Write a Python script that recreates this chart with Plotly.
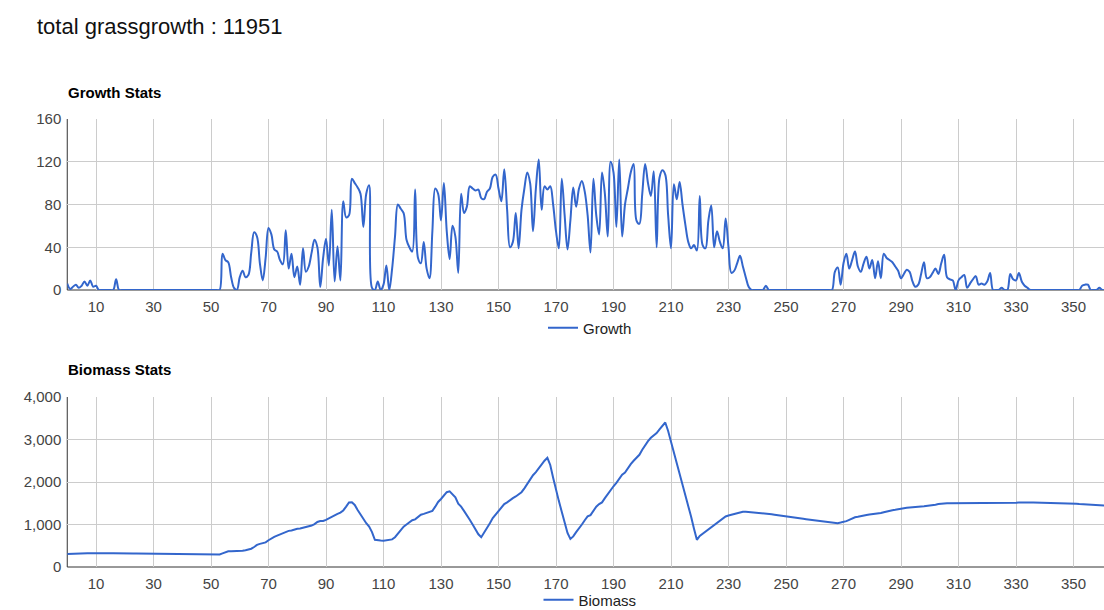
import plotly.graph_objects as go

# Day index of the season (0..361)
days = list(range(0, 362))

# Daily grass growth
growth = [
    6, 1, 3, 5, 2, 4, 8, 4, 9, 3,            # 0-9
    4, 0, 0, 0, 0, 0, 0, 10, 0, 0,           # 10-19
    0, 0, 0, 0, 0, 0, 0, 0, 0, 0,            # 20-29
    0, 0, 0, 0, 0, 0, 0, 0, 0, 0,            # 30-39
    0, 0, 0, 0, 0, 0, 0, 0, 0, 0,            # 40-49
    0, 0, 0, 0, 34, 28, 26, 12, 2, 0,        # 50-59
    12, 18, 12, 14, 35, 54, 50, 25, 9, 30,   # 60-69
    58, 52, 38, 36, 28, 24, 56, 20, 34, 12,  # 70-79
    22, 5, 39, 17, 22, 35, 47, 40, 3, 30,    # 80-89
    48, 23, 75, 8, 41, 9, 83, 68, 70, 104,   # 90-99
    100, 96, 90, 59, 90, 98, 2, 0, 8, 0,     # 100-109
    5, 23, 0, 20, 50, 80, 76, 72, 47, 40,    # 110-119
    36, 94, 30, 25, 45, 20, 11, 55, 95, 90,  # 120-129
    65, 100, 55, 29, 60, 50, 16, 90, 72, 78, # 130-139
    97, 95, 93, 94, 86, 85, 92, 95, 106, 108,    # 140-149
    95, 83, 113, 75, 40, 45, 72, 39, 75, 95,     # 150-159
    110, 100, 55, 95, 122, 75, 97, 94, 97, 80,   # 160-169
    55, 39, 104, 70, 38, 65, 96, 78, 95, 102,    # 170-179
    92, 70, 35, 104, 70, 52, 110, 90, 50, 120,   # 180-189
    110, 59, 122, 50, 80, 95, 110, 118, 65, 62,  # 190-199
    90, 118, 100, 88, 111, 40, 105, 112, 108, 70,    # 200-209
    39, 99, 85, 101, 80, 61, 45, 39, 42, 37,     # 210-219
    88, 42, 39, 65, 79, 40, 55, 45, 39, 67,      # 220-229
    40, 16, 18, 25, 32, 22, 12, 3, 0, 0,         # 230-239
    0, 0, 0, 4, 0, 0, 0, 0, 0, 0,                # 240-249
    0, 0, 0, 0, 0, 0, 0, 0, 0, 0,                # 250-259
    0, 0, 0, 0, 0, 0, 0, 17, 21, 5,              # 260-269
    25, 34, 20, 28, 36, 22, 17, 25, 31, 20,      # 270-279
    28, 11, 27, 11, 34, 30, 28, 26, 22, 18,      # 280-289
    11, 15, 19, 17, 8, 3, 5, 15, 26, 11,         # 290-299
    12, 16, 20, 15, 25, 33, 12, 10, 9, 0,        # 300-309
    9, 12, 14, 2, 6, 10, 13, 5, 6, 5,            # 310-319
    8, 16, 0, 0, 0, 2, 0, 0, 15, 10,             # 320-329
    9, 16, 8, 4, 2, 0, 0, 0, 0, 0,               # 330-339
    0, 0, 0, 0, 0, 0, 0, 0, 0, 0,                # 340-349
    0, 0, 0, 4, 5, 5, 0, 0, 0, 2,                # 350-359
    0, 0,                                        # 360-361
]

# Standing biomass per day
biomass = [
    305, 305, 310, 312, 315, 318, 320, 322, 325, 327,         # 0-9
    328, 328, 327, 326, 325, 324, 323, 325, 325, 324,         # 10-19
    323, 322, 321, 320, 319, 318, 318, 317, 317, 316,         # 20-29
    316, 316, 315, 315, 315, 315, 314, 314, 314, 314,         # 30-39
    313, 313, 313, 313, 312, 312, 312, 311, 311, 310,         # 40-49
    310, 305, 300, 295, 320, 350, 370, 372, 370, 368,         # 50-59
    370, 380, 395, 410, 430, 470, 520, 545, 560, 580,         # 60-69
    630, 680, 710, 740, 765, 790, 830, 850, 860, 885,         # 70-79
    900, 905, 920, 935, 955, 975, 1010, 1060, 1080, 1085,     # 80-89
    1110, 1150, 1170, 1230, 1250, 1280, 1330, 1420, 1520, 1525,   # 90-99
    1460, 1340, 1230, 1120, 1030, 950, 820, 640, 625, 625,        # 100-109
    620, 625, 640, 650, 700, 790, 880, 950, 1000, 1050,           # 110-119
    1100, 1120, 1170, 1230, 1250, 1270, 1300, 1320, 1420, 1530,   # 120-129
    1600, 1680, 1760, 1780, 1720, 1640, 1490, 1420, 1320, 1200,   # 130-139
    1110, 1000, 880, 770, 700, 800, 920, 1030, 1150, 1240,        # 140-149
    1320, 1400, 1480, 1520, 1580, 1620, 1660, 1700, 1760, 1850,   # 150-159
    1960, 2080, 2160, 2230, 2320, 2420, 2500, 2570, 2400, 2100,   # 160-169
    1800, 1550, 1300, 1050, 800, 660, 720, 820, 900, 1000,        # 170-179
    1100, 1190, 1220, 1320, 1420, 1480, 1520, 1620, 1720, 1820,   # 180-189
    1900, 1980, 2090, 2170, 2220, 2330, 2420, 2500, 2560, 2640,   # 190-199
    2760, 2870, 2960, 3040, 3090, 3150, 3240, 3330, 3400, 3200,   # 200-209
    2950, 2700, 2440, 2200, 1980, 1720, 1450, 1180, 900, 640,     # 210-219
    730, 780, 820, 890, 930, 990, 1040, 1090, 1130, 1190,         # 220-229
    1210, 1230, 1240, 1260, 1290, 1300, 1300, 1295, 1290, 1285,   # 230-239
    1280, 1272, 1265, 1258, 1250, 1240, 1230, 1222, 1215, 1205,   # 240-249
    1195, 1185, 1175, 1165, 1155, 1145, 1135, 1125, 1115, 1105,   # 250-259
    1095, 1085, 1075, 1065, 1055, 1045, 1035, 1025, 1030, 1045,   # 260-269
    1060, 1080, 1110, 1140, 1170, 1180, 1200, 1215, 1225, 1235,   # 270-279
    1240, 1250, 1255, 1270, 1290, 1310, 1325, 1335, 1345, 1360,   # 280-289
    1370, 1385, 1395, 1400, 1410, 1415, 1420, 1425, 1430, 1435,   # 290-299
    1440, 1450, 1465, 1480, 1490, 1495, 1498, 1500, 1500, 1500,   # 300-309
    1500, 1500, 1502, 1505, 1505, 1507, 1507, 1508, 1508, 1508,   # 310-319
    1510, 1510, 1508, 1506, 1505, 1502, 1500, 1498, 1495, 1500,   # 320-329
    1510, 1515, 1520, 1522, 1520, 1518, 1516, 1515, 1514, 1512,   # 330-339
    1510, 1510, 1508, 1507, 1506, 1505, 1505, 1504, 1503, 1500,   # 340-349
    1495, 1488, 1480, 1475, 1468, 1462, 1458, 1455, 1452, 1450,   # 350-359
    1448, 1446,                                                   # 360-361
]

total_growth = 11951
x_ticks = list(range(10, 360, 20))
growth_ticks = [0, 40, 80, 120, 160]
biomass_ticks = [0, 1000, 2000, 3000, 4000]
biomass_labels = ["0", "1,000", "2,000", "3,000", "4,000"]

W, H = 1104, 610
FONT = "Liberation Sans, Arial, sans-serif"
BLUE = "#3366CC"


def px_x(p):
    return p / W


def px_y(p):
    return 1 - p / H


fig = go.Figure()
fig.add_trace(go.Scatter(
    x=days, y=growth, name="Growth", mode="lines",
    line=dict(color=BLUE, width=2, shape="spline", smoothing=1.0),
    xaxis="x", yaxis="y", legend="legend", hoverinfo="x+y",
))
fig.add_trace(go.Scatter(
    x=days, y=biomass, name="Biomass", mode="lines",
    line=dict(color=BLUE, width=2),
    xaxis="x2", yaxis="y2", legend="legend2", hoverinfo="x+y",
))

x_range = [0, (W - 67.25) / 2.875]
common_x = dict(
    range=x_range, tickmode="array", tickvals=x_ticks,
    showgrid=True, gridcolor="#cccccc", gridwidth=1,
    zeroline=False, showline=False, automargin=False,
    ticks="outside", ticklen=3, tickcolor="rgba(0,0,0,0)",
    tickfont=dict(family=FONT, size=15, color="#444444"),
    layer="below traces", fixedrange=True,
)
common_y = dict(
    showgrid=True, gridcolor="#cccccc", gridwidth=1,
    zeroline=False, showline=False, automargin=False,
    ticks="outside", ticklen=2, tickcolor="rgba(0,0,0,0)",
    tickfont=dict(family=FONT, size=15, color="#444444"),
    layer="below traces", fixedrange=True,
)

legend_style = dict(
    orientation="h", xanchor="center", yanchor="middle",
    xref="container", yref="container", bgcolor="rgba(0,0,0,0)",
    font=dict(family=FONT, size=15, color="#222222"),
)

fig.update_layout(
    width=W, height=H,
    margin=dict(l=0, r=0, t=0, b=0, autoexpand=False),
    paper_bgcolor="white", plot_bgcolor="white",
    font=dict(family=FONT, color="#222222"),
    xaxis=dict(domain=[px_x(67.25), 1], anchor="y", **common_x),
    yaxis=dict(domain=[px_y(290), px_y(119)], anchor="x", range=[0, 160],
               tickmode="array", tickvals=growth_ticks, **common_y),
    xaxis2=dict(domain=[px_x(67.25), 1], anchor="y2", **common_x),
    yaxis2=dict(domain=[px_y(567), px_y(397)], anchor="x2", range=[0, 4000],
                tickmode="array", tickvals=biomass_ticks, ticktext=biomass_labels,
                **common_y),
    legend=dict(x=px_x(590), y=px_y(328), **legend_style),
    legend2=dict(x=px_x(590), y=px_y(600), **legend_style),
    showlegend=True,
)

# Baselines at day 0 and value 0 for both panels
for xa, ya in (("x", "y"), ("x2", "y2")):
    fig.add_shape(type="line", xref=f"{xa} domain", yref=f"{ya} domain",
                  x0=0, x1=0, y0=0, y1=1, line=dict(color="#333333", width=1),
                  layer="below")
    fig.add_shape(type="line", xref=f"{xa} domain", yref=f"{ya} domain",
                  x0=0, x1=1, y0=0, y1=0, line=dict(color="#333333", width=1),
                  layer="below")

fig.add_annotation(text=f"total grassgrowth : {total_growth}", xref="paper", yref="paper",
                   x=px_x(35), y=px_y(26), xanchor="left", yanchor="middle",
                   showarrow=False, font=dict(family=FONT, size=22, color="#111111"))
fig.add_annotation(text="<b>Growth Stats</b>", xref="paper", yref="paper",
                   x=px_x(66), y=px_y(92), xanchor="left", yanchor="middle",
                   showarrow=False, font=dict(family=FONT, size=15, color="#000000"))
fig.add_annotation(text="<b>Biomass Stats</b>", xref="paper", yref="paper",
                   x=px_x(66), y=px_y(369), xanchor="left", yanchor="middle",
                   showarrow=False, font=dict(family=FONT, size=15, color="#000000"))

fig.write_html("out.html", config={"displayModeBar": False})
